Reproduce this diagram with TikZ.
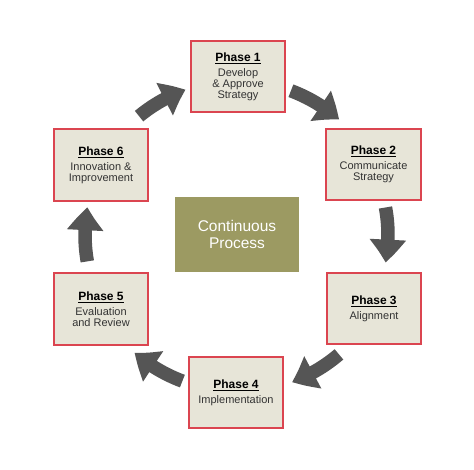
\documentclass[tikz,border=0pt]{standalone}
\usepackage{fontspec}
\setmainfont{Liberation Sans}
\usetikzlibrary{arrows.meta,bending}
\definecolor{boxfill}{HTML}{E7E5D8}
\definecolor{boxred}{HTML}{DB4550}
\definecolor{olivecore}{HTML}{9C9A62}
\definecolor{arrgray}{HTML}{555555}
\definecolor{bodytext}{HTML}{333333}
\newcommand\phasetitle[1]{{\fontsize{12}{13}\selectfont\bfseries\color{black}\underline{#1}}\\[4pt]}
\begin{document}
\begin{tikzpicture}[x=1pt,y=1pt,
 phase/.style={draw=boxred, line width=2pt, fill=boxfill, minimum width=94.5pt, minimum height=71.5pt, inner sep=0pt, align=center, text=bodytext, font=\fontsize{11}{11}\selectfont},
 core/.style={fill=olivecore, minimum width=124pt, minimum height=75pt, inner sep=0pt, align=center, text=white, font=\fontsize{15.5}{17}\selectfont},
 cyc/.style={draw=arrgray, line width=13.5pt, -{Triangle[length=23pt,width=35pt,bend]}}]
\useasboundingbox (0,0) rectangle (474,470);
\fill[white] (0,0) rectangle (474,470);
\coordinate (C) at (237,235);
\node[phase] (p1) at (238,393.5) {\phasetitle{Phase 1}Develop\\\& Approve\\Strategy};
\node[phase] (p2) at (373.5,305.5) {\phasetitle{Phase 2}Communicate\\Strategy};
\node[phase] (p3) at (374,161.5) {\phasetitle{Phase 3}Alignment};
\node[phase] (p4) at (236,77.5) {\phasetitle{Phase 4}Implementation};
\node[phase] (p5) at (101,161) {\phasetitle{Phase 5}Evaluation\\and Review};
\node[phase] (p6) at (101,305) {\phasetitle{Phase 6}Innovation \&\\Improvement};
\node[core] (core) at (237,235.5) {Continuous\\Process};
\draw[cyc] (C) ++(69.5:154) arc[start angle=69.5, end angle=48.5, radius=154];
\draw[cyc] (C) ++(10.5:151) arc[start angle=10.5, end angle=-10.5, radius=151];
\draw[cyc] (C) ++(-49.5:157) arc[start angle=-49.5, end angle=-69.5, radius=157];
\draw[cyc] (C) ++(-110.5:156) arc[start angle=-110.5, end angle=-131, radius=156];
\draw[cyc] (C) ++(190:152) arc[start angle=190, end angle=169.5, radius=152];
\draw[cyc] (C) ++(129.5:154) arc[start angle=129.5, end angle=109.5, radius=154];
\end{tikzpicture}
\end{document}
